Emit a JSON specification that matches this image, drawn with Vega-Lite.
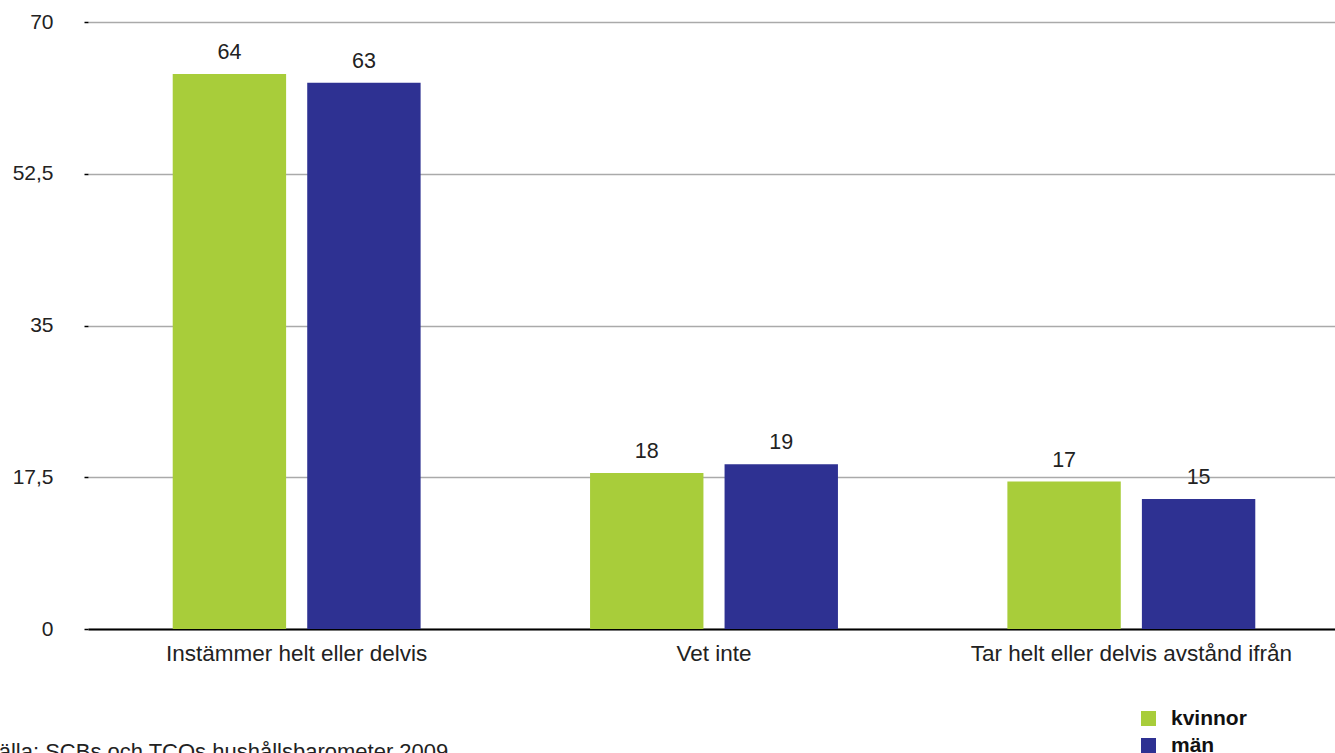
{
  "$schema": "https://vega.github.io/schema/vega-lite/v6.json",
  "autosize": "none",
  "width": 1252,
  "height": 607,
  "padding": {"left": 88, "top": 22, "right": 0, "bottom": 124},
  "background": "white",
  "config": {
    "font": "Liberation Sans",
    "view": {"stroke": null}
  },
  "title": {
    "text": "Källa: SCBs och TCOs hushållsbarometer 2009",
    "orient": "bottom",
    "anchor": "start",
    "frame": "group",
    "dx": -104,
    "offset": 0,
    "dy": -14,
    "fontSize": 22,
    "fontWeight": "normal",
    "color": "#222222",
    "font": "Liberation Sans"
  },
  "data": {
    "values": [
      {"kategori": "Instämmer helt eller delvis", "kon": "kvinnor", "varde": 64},
      {"kategori": "Instämmer helt eller delvis", "kon": "män", "varde": 63},
      {"kategori": "Vet inte", "kon": "kvinnor", "varde": 18},
      {"kategori": "Vet inte", "kon": "män", "varde": 19},
      {"kategori": "Tar helt eller delvis avstånd ifrån", "kon": "kvinnor", "varde": 17},
      {"kategori": "Tar helt eller delvis avstånd ifrån", "kon": "män", "varde": 15}
    ]
  },
  "encoding": {
    "x": {
      "field": "kategori",
      "type": "nominal",
      "sort": null,
      "scale": {"paddingInner": 0.406, "paddingOuter": 0.203},
      "axis": {
        "title": null,
        "labelAngle": 0,
        "labelFontSize": 22.5,
        "labelLimit": 0,
        "labelColor": "#222222",
        "labelPadding": 13,
        "ticks": false,
        "domainColor": "#000000",
        "domainWidth": 2
      }
    },
    "xOffset": {
      "field": "kon",
      "type": "nominal",
      "scale": {"paddingInner": 0.157, "paddingOuter": 0}
    },
    "y": {
      "field": "varde",
      "type": "quantitative",
      "scale": {"domain": [0, 70], "nice": false},
      "axis": {
        "title": null,
        "values": [0, 17.5, 35, 52.5, 70],
        "format": ",.1~f",
        "labelExpr": "replace(datum.label, '.', ',')",
        "labelFontSize": 21,
        "labelColor": "#222222",
        "labelPadding": 31,
        "tickSize": 4,
        "tickColor": "#000000",
        "tickWidth": 1.5,
        "domain": false,
        "grid": true,
        "gridColor": "#aaaaaa",
        "gridWidth": 1.5
      }
    }
  },
  "layer": [
    {
      "mark": {"type": "bar"},
      "encoding": {
        "color": {
          "field": "kon",
          "type": "nominal",
          "scale": {"domain": ["kvinnor", "män"], "range": ["#a8cd3a", "#2e3192"]},
          "legend": {
            "title": null,
            "orient": "none",
            "legendX": 1050,
            "legendY": 686,
            "symbolType": "square",
            "symbolSize": 225,
            "symbolStrokeWidth": 0,
            "symbolOpacity": 1,
            "labelFontSize": 21,
            "labelFontWeight": "bold",
            "labelColor": "#111111",
            "labelOffset": 12,
            "rowPadding": 5
          }
        }
      }
    },
    {
      "mark": {"type": "text", "baseline": "bottom", "dy": -10, "fontSize": 21.5, "color": "#222222"},
      "encoding": {
        "text": {"field": "varde", "type": "quantitative"}
      }
    }
  ]
}
